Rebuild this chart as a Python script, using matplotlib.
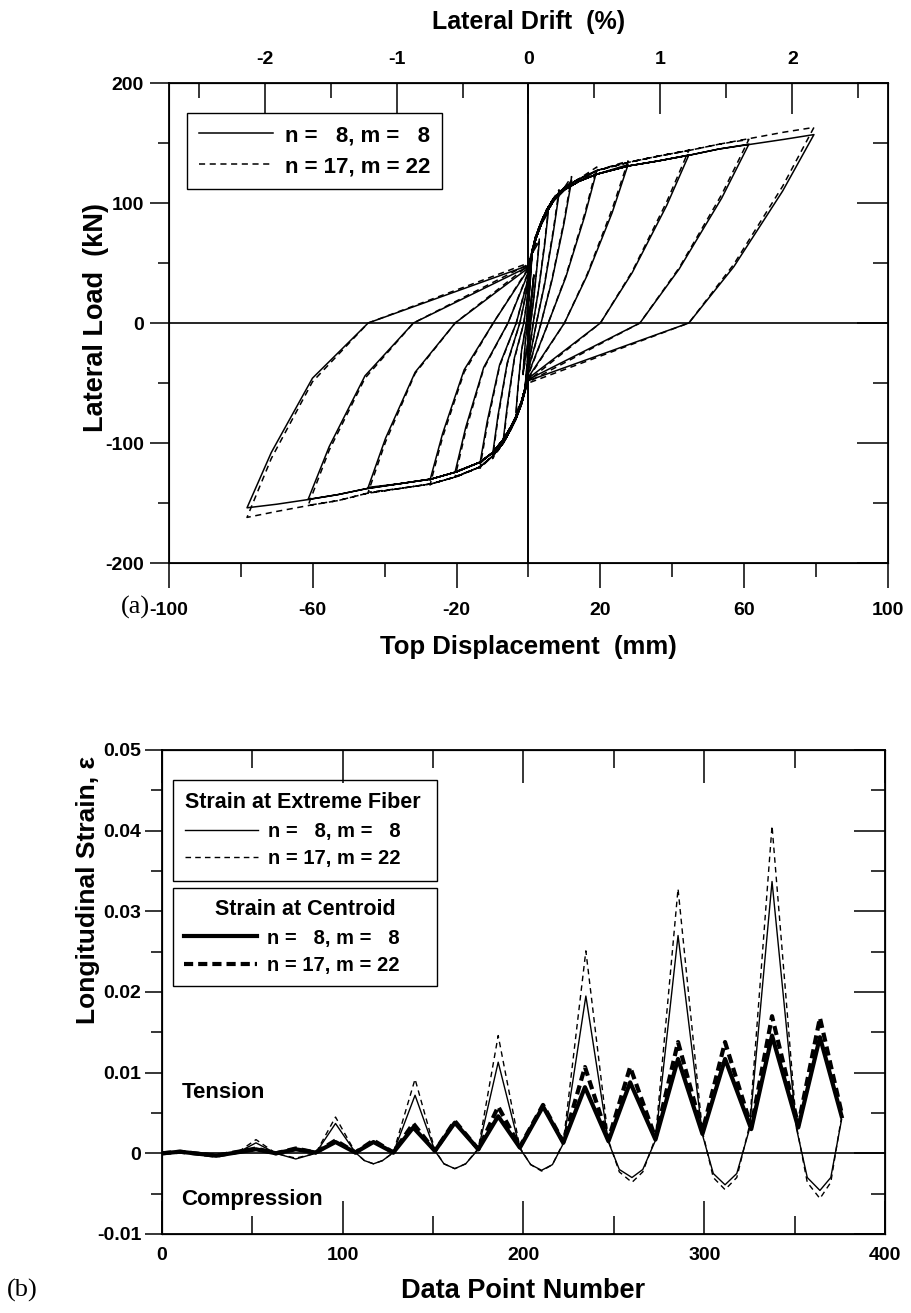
import matplotlib
matplotlib.use("Agg")
import matplotlib.pyplot as plt
from matplotlib.ticker import FixedLocator, MultipleLocator, NullFormatter

plt.rcParams['font.family'] = ['Liberation Sans', 'DejaVu Sans']
plt.rcParams['font.weight'] = 'bold'
plt.rcParams['axes.labelweight'] = 'bold'
plt.rcParams['axes.unicode_minus'] = False

# ---------------- Panel (a) data ----------------
pos_peak_disp = [1.5, 3.0, 5.5, 8.5, 12.0, 19.0, 27.7, 44.6, 61.3, 79.4]
pos_peak_load_n8 = [40, 68, 92, 108, 119, 127, 132, 140, 149, 157]
pos_peak_load_n17 = [41, 70, 94, 111, 122, 130, 135, 144, 153, 163]
pos_hi_disp = [1.18, 2.4, 4.45, 6.93, 9.88, 15.63, 23.28, 38.45, 53.73, 70.7]
pos_hi_load_n8 = [28, 48, 64, 76, 83, 89, 92, 98, 104, 110]
pos_hi_load_n17 = [29, 49, 66, 78, 85, 91, 95, 101, 107, 114]
pos_lo_disp = [0.67, 1.46, 2.81, 4.47, 6.56, 10.36, 16.37, 28.86, 41.91, 57.13]
pos_lo_load_n8 = [12, 20, 28, 32, 36, 38, 40, 42, 45, 47]
pos_lo_load_n17 = [12, 21, 28, 33, 37, 39, 41, 43, 46, 49]
pos_zero_disp = [0.2, 0.6, 1.3, 2.2, 3.5, 5.5, 10.0, 20.0, 31.0, 44.6]

neg_peak_disp = [-1.5, -3.5, -7.0, -10.0, -13.5, -20.4, -27.4, -44.6, -61.3, -78.3]
neg_peak_load_n8 = [-42, -75, -97, -110, -117, -124, -131, -137, -147, -154]
neg_peak_load_n17 = [-43, -77, -100, -113, -121, -128, -135, -141, -152, -162]
neg_hi_disp = [-1.24, -2.92, -5.86, -8.48, -11.48, -17.46, -23.88, -39.76, -55.44, -71.56]
neg_hi_load_n8 = [-29, -53, -68, -77, -82, -87, -92, -96, -103, -108]
neg_hi_load_n17 = [-30, -54, -70, -79, -85, -90, -95, -99, -106, -113]
neg_lo_disp = [-0.8, -1.93, -3.92, -5.9, -8.05, -12.46, -17.9, -31.53, -45.48, -60.1]
neg_lo_load_n8 = [-13, -23, -29, -33, -35, -37, -39, -41, -44, -46]
neg_lo_load_n17 = [-13, -23, -30, -34, -36, -38, -41, -42, -46, -49]
neg_zero_disp = [-0.2, -0.6, -1.3, -2.4, -3.4, -5.7, -9.8, -20.4, -32.0, -44.6]

pinch_load_n8 = [12, 20, 28, 34, 38, 42, 45, 46, 47, 48]
pinch_load_n17 = [13, 21, 29, 35, 39, 43, 46, 48, 49, 50]

env_pos_disp = [1, 2, 3.5, 5, 7, 10, 14, 19, 28, 36, 45, 53, 62, 71, 80]
env_pos_load_n8 = [58, 70, 82, 92, 102, 111, 118, 124, 131, 135, 140, 145, 149, 153, 157]
env_pos_load_n17 = [60, 72, 84, 94, 104, 113, 120, 127, 134, 139, 144, 149, 154, 159, 163]
env_neg_disp = [-1, -2, -3.5, -5, -7, -10, -13.5, -20, -27, -36, -45, -53, -61, -70, -78]
env_neg_load_n8 = [-55, -66, -78, -87, -97, -108, -116, -124, -130, -134, -138, -143, -147, -151, -154]
env_neg_load_n17 = [-57, -68, -80, -89, -100, -111, -120, -128, -134, -138, -142, -148, -152, -157, -162]

drift_mm_per_pct = 36.7

# ---------------- Panel (b) data ----------------
ext_x = [0, 10, 20, 30, 41, 52, 63, 74, 85, 96, 107, 112, 117, 122, 128, 140, 151, 156,
         162, 168, 175, 186, 198, 204, 210, 216, 222, 234.5, 247, 253, 260, 266, 273, 285.5,
         299, 305, 311.5, 318, 325, 337.5, 351, 357, 364, 370, 376]
ext_n8 = [0, 0.0003, 0, -0.0003, 0, 0.0013, 0, -0.0007, 0, 0.0037, 0.0001, -0.0009, -0.0013,
          -0.0009, 0.0001, 0.0072, 0.0003, -0.0013, -0.0019, -0.0013, 0.0005, 0.0113, 0.0006,
          -0.0014, -0.0021, -0.0014, 0.0012, 0.0195, 0.0014, -0.002, -0.003, -0.002, 0.0016,
          0.027, 0.0023, -0.0025, -0.0039, -0.0025, 0.003, 0.0337, 0.0031, -0.003, -0.0046,
          -0.003, 0.0042]
ext_n17 = [0, 0.0003, 0, -0.0003, 0, 0.0017, 0, -0.0006, 0, 0.0045, 0.0001, -0.0009, -0.0013,
           -0.0009, 0.0001, 0.0092, 0.0004, -0.0013, -0.0019, -0.0013, 0.0006, 0.0146, 0.0007,
           -0.0014, -0.0022, -0.0014, 0.0013, 0.0251, 0.0016, -0.0023, -0.0036, -0.0023, 0.0019,
           0.0328, 0.0027, -0.003, -0.0045, -0.003, 0.0034, 0.0406, 0.0034, -0.0036, -0.0056,
           -0.0036, 0.0046]
cen_x = [0, 10, 30, 52, 63, 74, 85, 96, 107, 117, 128, 139, 151, 162, 175, 186, 198, 210.8,
         222, 234, 247, 259, 273, 285.5, 299, 311.5, 326, 337.5, 352, 364, 376]
cen_n8 = [0, 0.0002, -0.0003, 0.0005, 0.0, 0.0005, 0.0001, 0.0014, 0.0001, 0.0014, 0.0001,
          0.0032, 0.0003, 0.0038, 0.0005, 0.0046, 0.0007, 0.0058, 0.0013, 0.0082, 0.0015,
          0.0088, 0.0017, 0.0117, 0.0024, 0.0117, 0.003, 0.0146, 0.0032, 0.0144, 0.0046]
cen_n17 = [0, 0.0002, -0.0003, 0.0006, 0.0, 0.0006, 0.0001, 0.0016, 0.0001, 0.0016, 0.0001,
           0.0037, 0.0003, 0.0040, 0.0005, 0.0058, 0.0008, 0.0060, 0.0014, 0.0107, 0.0017,
           0.0107, 0.0019, 0.0138, 0.0027, 0.0138, 0.0033, 0.0170, 0.0035, 0.0168, 0.0050]

xa_major = [-100, -60, -20, 20, 60, 100]
xa_minor = [-80, -40, 0, 40, 80]
drift_major = [-2, -1, 0, 1, 2]
drift_minor = [-2.5, -1.5, -0.5, 0.5, 1.5, 2.5]
yb_ticks = [-0.01, 0, 0.01, 0.02, 0.03, 0.04, 0.05]
yb_labels = ['-0.01', '0', '0.01', '0.02', '0.03', '0.04', '0.05']


def hysteresis(pk_pd, pk_pf, hi_pd, hi_pf, lo_pd, lo_pf, zc_p,
               pk_nd, pk_nf, hi_nd, hi_nf, lo_nd, lo_nf, zc_n, pinch,
               ep_d, ep_f, en_d, en_f):
    xs, ys = [0.0], [0.0]
    for i in range(len(pk_pd)):
        start = ys[-1]
        for d, f in zip(ep_d, ep_f):
            if d < pk_pd[i] and start < f < pk_pf[i]:
                xs.append(d); ys.append(f)
        xs += [pk_pd[i], hi_pd[i], lo_pd[i], zc_p[i], 0.0]
        ys += [pk_pf[i], hi_pf[i], lo_pf[i], 0.0, -pinch[i]]
        for d, f in zip(en_d, en_f):
            if d > pk_nd[i] and pk_nf[i] < f < -pinch[i]:
                xs.append(d); ys.append(f)
        xs += [pk_nd[i], hi_nd[i], lo_nd[i], zc_n[i], 0.0]
        ys += [pk_nf[i], hi_nf[i], lo_nf[i], 0.0, pinch[i]]
    return xs, ys


W, H = 912, 1313
fig = plt.figure(figsize=(W / 100, H / 100), dpi=100)
fig.patch.set_facecolor('white')

TICK_FS = 14
LAB_FS = 18

# ================= Panel (a) =================
axl, axt, axr_, axb = 169, 83, 888, 563
ax1 = fig.add_axes([axl / W, 1 - axb / H, (axr_ - axl) / W, (axb - axt) / H])
x8, y8 = hysteresis(pos_peak_disp, pos_peak_load_n8, pos_hi_disp, pos_hi_load_n8,
                    pos_lo_disp, pos_lo_load_n8, pos_zero_disp,
                    neg_peak_disp, neg_peak_load_n8, neg_hi_disp, neg_hi_load_n8,
                    neg_lo_disp, neg_lo_load_n8, neg_zero_disp,
                    pinch_load_n8, env_pos_disp, env_pos_load_n8, env_neg_disp, env_neg_load_n8)
x17, y17 = hysteresis(pos_peak_disp, pos_peak_load_n17, pos_hi_disp, pos_hi_load_n17,
                      pos_lo_disp, pos_lo_load_n17, pos_zero_disp,
                      neg_peak_disp, neg_peak_load_n17, neg_hi_disp, neg_hi_load_n17,
                      neg_lo_disp, neg_lo_load_n17, neg_zero_disp,
                      pinch_load_n17, env_pos_disp, env_pos_load_n17, env_neg_disp, env_neg_load_n17)
ax1.axhline(0, color='black', lw=1.2, zorder=1)
ax1.axvline(0, color='black', lw=1.4, zorder=1)
l1, = ax1.plot(x8, y8, color='black', lw=1.1, label='n =   8, m =   8', zorder=3)
l2, = ax1.plot(x17, y17, color='black', lw=1.1, ls=(0, (4, 3)), label='n = 17, m = 22', zorder=3)
ax1.set_xlim(-100, 100)
ax1.set_ylim(-200, 200)
ax1.xaxis.set_major_locator(FixedLocator(xa_major))
ax1.xaxis.set_minor_locator(FixedLocator(xa_minor))
ax1.yaxis.set_major_locator(MultipleLocator(100))
ax1.yaxis.set_minor_locator(MultipleLocator(50))
ax1.tick_params(axis='x', which='major', direction='out', length=18, width=1.1, pad=10,
                labelsize=TICK_FS, top=False)
ax1.tick_params(axis='x', which='minor', direction='out', length=10, width=1.1, top=False)
ax1.tick_params(axis='y', which='major', direction='out', length=14, width=1.1, pad=4,
                labelsize=TICK_FS, right=False)
ax1.tick_params(axis='y', which='minor', direction='out', length=8, width=1.1, right=False)
for s in ax1.spines.values():
    s.set_linewidth(1.3)
ax1.set_xlabel('Top Displacement  (mm)', fontsize=18.5, va='center')
ax1.xaxis.set_label_coords(0.5, (axb - 647) / (axb - axt))
ax1.set_ylabel('Lateral Load  (kN)', fontsize=19.5, va='center')
ax1.yaxis.set_label_coords((96 - axl) / (axr_ - axl), (axb - 318) / (axb - axt))

ax1r = ax1.twinx()
ax1r.set_ylim(-200, 200)
ax1r.yaxis.set_major_locator(MultipleLocator(100))
ax1r.yaxis.set_minor_locator(MultipleLocator(50))
ax1r.yaxis.set_major_formatter(NullFormatter())
ax1r.tick_params(axis='y', which='major', direction='in', length=22, width=1.1)
ax1r.tick_params(axis='y', which='minor', direction='in', length=11, width=1.1)

sec = ax1.secondary_xaxis('top', functions=(lambda x: x / drift_mm_per_pct,
                                            lambda p: p * drift_mm_per_pct))
sec.xaxis.set_major_locator(FixedLocator(drift_major))
sec.xaxis.set_minor_locator(FixedLocator(drift_minor))
sec.tick_params(axis='x', which='major', direction='in', length=22, width=1.1, pad=11,
                labelsize=TICK_FS)
sec.tick_params(axis='x', which='minor', direction='in', length=11, width=1.1)
fig.text(529 / W, 1 - 22 / H, 'Lateral Drift  (%)', ha='center', va='center',
         fontsize=LAB_FS, weight='bold')

leg = ax1.legend(handles=[l1, l2], loc='upper left',
                 bbox_to_anchor=((187 - axl) / (axr_ - axl), (axb - 113) / (axb - axt)),
                 borderaxespad=0, fancybox=False, edgecolor='black', framealpha=1,
                 fontsize=16, handlelength=3.3, handletextpad=0.55, borderpad=0.55,
                 labelspacing=0.45)
leg.get_frame().set_linewidth(1.0)

fig.text(135 / W, 1 - 607 / H, '(a)', ha='center', va='center', fontsize=19,
         family='Liberation Serif', weight='normal')

# ================= Panel (b) =================
bl, bt, br, bb = 162, 750, 885, 1234
ax2 = fig.add_axes([bl / W, 1 - bb / H, (br - bl) / W, (bb - bt) / H])
ax2.axhline(0, color='black', lw=1.2, zorder=1)
e1, = ax2.plot(ext_x, ext_n8, color='black', lw=1.0, label='n =   8, m =   8', zorder=3)
e2, = ax2.plot(ext_x, ext_n17, color='black', lw=1.0, ls=(0, (4, 3)), label='n = 17, m = 22', zorder=3)
c1, = ax2.plot(cen_x, cen_n8, color='black', lw=3.0, label='n =   8, m =   8', zorder=4,
               solid_joinstyle='round')
c2, = ax2.plot(cen_x, cen_n17, color='black', lw=3.0, ls=(0, (2.2, 1.2)), label='n = 17, m = 22',
               zorder=4, dash_joinstyle='round')
ax2.set_xlim(0, 400)
ax2.set_ylim(-0.01, 0.05)
ax2.xaxis.set_major_locator(MultipleLocator(100))
ax2.xaxis.set_minor_locator(MultipleLocator(50))
ax2.yaxis.set_major_locator(FixedLocator(yb_ticks))
ax2.yaxis.set_minor_locator(MultipleLocator(0.005))
ax2.set_yticklabels(yb_labels)
ax2.tick_params(axis='x', which='major', direction='in', length=24, width=1.1, pad=9,
                labelsize=TICK_FS, top=False)
ax2.tick_params(axis='x', which='minor', direction='in', length=13, width=1.1, top=False)
ax2.tick_params(axis='y', which='major', direction='out', length=12, width=1.1, pad=3,
                labelsize=TICK_FS, right=False)
ax2.tick_params(axis='y', which='minor', direction='out', length=8, width=1.1, right=False)
for s in ax2.spines.values():
    s.set_linewidth(1.3)
ax2.set_xlabel('Data Point Number', fontsize=LAB_FS + 1.5, va='center')
ax2.xaxis.set_label_coords(0.5, (bb - 1291) / (bb - bt))
ax2.set_ylabel('Longitudinal Strain, ε', fontsize=LAB_FS + 1, va='center')
ax2.yaxis.set_label_coords((88 - bl) / (br - bl), (bb - 890) / (bb - bt))

ax2r = ax2.twinx()
ax2r.set_ylim(-0.01, 0.05)
ax2r.yaxis.set_major_locator(FixedLocator(yb_ticks))
ax2r.yaxis.set_minor_locator(MultipleLocator(0.005))
ax2r.yaxis.set_major_formatter(NullFormatter())
ax2r.tick_params(axis='y', which='major', direction='in', length=22, width=1.1)
ax2r.tick_params(axis='y', which='minor', direction='in', length=10, width=1.1)

ax2t = ax2.twiny()
ax2t.set_xlim(0, 400)
ax2t.xaxis.set_major_locator(MultipleLocator(100))
ax2t.xaxis.set_minor_locator(MultipleLocator(50))
ax2t.xaxis.set_major_formatter(NullFormatter())
ax2t.tick_params(axis='x', which='major', direction='in', length=24, width=1.1)
ax2t.tick_params(axis='x', which='minor', direction='in', length=13, width=1.1)

bw = (437 - 173) / (br - bl)
bx0 = (173 - bl) / (br - bl)
legA = ax2.legend(handles=[e1, e2], loc='upper left', mode='expand',
                  bbox_to_anchor=(bx0, 0.5, bw, (bb - 780) / (bb - bt) - 0.5),
                  borderaxespad=0, fancybox=False, edgecolor='black', framealpha=1,
                  fontsize=14.5, title='Strain at Extreme Fiber',
                  title_fontproperties={'weight': 'bold', 'size': 15.5},
                  alignment='left', handlelength=3.6, handletextpad=0.5, borderpad=0.62,
                  labelspacing=0.42)
legA.get_frame().set_linewidth(1.0)
ax2.add_artist(legA)
legB = ax2.legend(handles=[c1, c2], loc='upper left', mode='expand',
                  bbox_to_anchor=(bx0, 0.3, bw, (bb - 888) / (bb - bt) - 0.3),
                  borderaxespad=0, fancybox=False, edgecolor='black', framealpha=1,
                  fontsize=14.5, title='Strain at Centroid',
                  title_fontproperties={'weight': 'bold', 'size': 15.5},
                  alignment='center', handlelength=3.6, handletextpad=0.5, borderpad=0.55,
                  labelspacing=0.42)
legB.get_frame().set_linewidth(1.0)

ax2.text((182 - bl) / (br - bl), (bb - 1092) / (bb - bt), 'Tension', transform=ax2.transAxes,
         ha='left', va='center', fontsize=16)
ax2.text((181 - bl) / (br - bl), (bb - 1200) / (bb - bt), 'Compression', transform=ax2.transAxes,
         ha='left', va='center', fontsize=16)

fig.text(22 / W, 1 - 1290 / H, '(b)', ha='center', va='center', fontsize=19,
         family='Liberation Serif', weight='normal')

fig.savefig('out.png', dpi=100, facecolor='white')
